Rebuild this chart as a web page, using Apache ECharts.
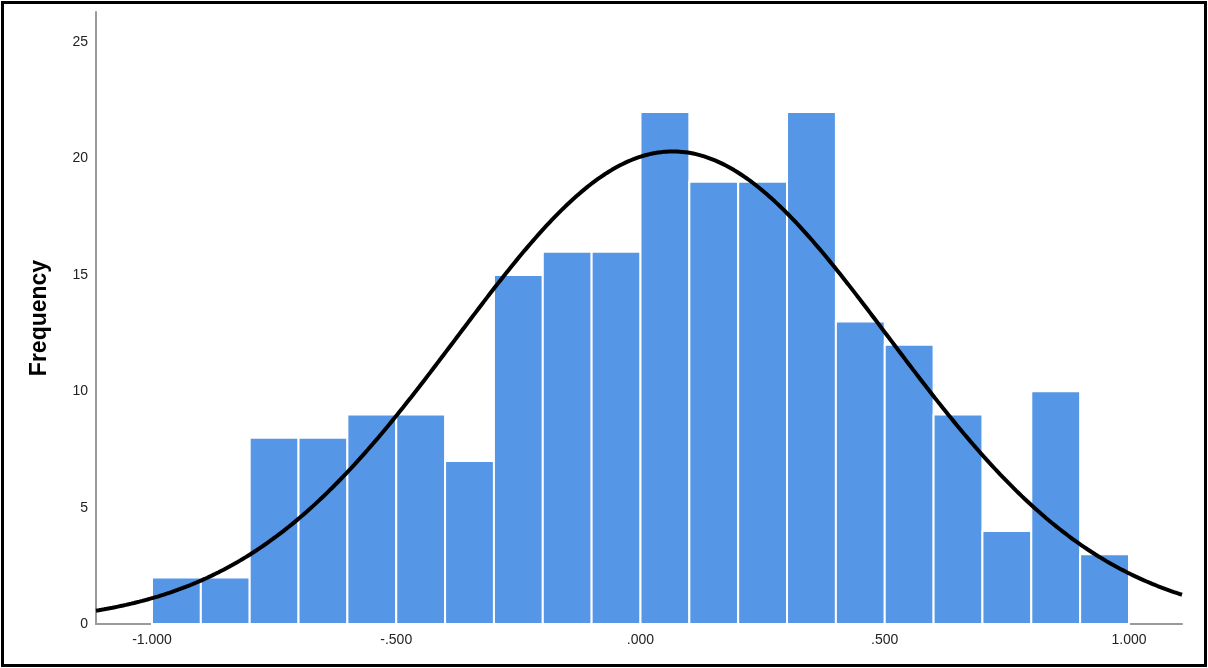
<!DOCTYPE html>
<html>
<head>
<meta charset="utf-8">
<style>
  html, body { margin: 0; padding: 0; background: #fff; }
  #chart { width: 1208px; height: 668px; }
</style>
<script src="https://cdn.jsdelivr.net/npm/echarts@6/dist/echarts.min.js"></script>
</head>
<body>
<div id="chart"></div>
<script>
// Histogram bins (lower edge) and their counts
const binStarts = [-1.0, -0.9, -0.8, -0.7, -0.6, -0.5, -0.4, -0.3, -0.2, -0.1,
                   0.0, 0.1, 0.2, 0.3, 0.4, 0.5, 0.6, 0.7, 0.8, 0.9];
const binWidth = 0.1;
const frequencies = [2, 2, 8, 8, 9, 9, 7, 15, 16, 16,
                     22, 19, 19, 22, 13, 12, 9, 4, 10, 3];

// Normal curve parameters
const normalMean = 0.066;
const normalSD = 0.442;
const sampleN = 225;

// Axis ticks
const xTickValues = [-1, -0.5, 0, 0.5, 1];
const xTickLabels = ['-1.000', '-.500', '.000', '.500', '1.000'];
const yTickValues = [0, 5, 10, 15, 20, 25];

const xMin = -1.1146, xMax = 1.1085;

const histData = binStarts.map((s, i) => [s, s + binWidth, frequencies[i]]);

// Expected frequency per bin under the normal distribution
const curveData = [];
for (let k = 0; k <= 400; k++) {
  const x = xMin + (xMax - xMin) * k / 400;
  const z = (x - normalMean) / normalSD;
  const y = sampleN * binWidth / (normalSD * Math.sqrt(2 * Math.PI)) * Math.exp(-0.5 * z * z);
  curveData.push([x, y]);
}

const labelMap = {};
xTickValues.forEach((v, i) => { labelMap[v.toFixed(3)] = xTickLabels[i]; });

const FONT = 'Liberation Sans, Arial, sans-serif';

const chart = echarts.init(document.getElementById('chart'));
chart.setOption({
  animation: false,
  backgroundColor: '#ffffff',
  grid: { left: 96, right: 26, top: 12, bottom: 44 },
  xAxis: {
    type: 'value',
    min: xMin,
    max: xMax,
    splitLine: { show: false },
    axisLine: { show: true, onZero: false, lineStyle: { color: '#9a9a9a', width: 2 } },
    axisTick: { show: false },
    axisLabel: {
      customValues: xTickValues,
      formatter: v => labelMap[Number(v).toFixed(3)] || '',
      color: '#222',
      fontFamily: FONT,
      fontSize: 14,
      margin: 9
    }
  },
  yAxis: {
    type: 'value',
    min: 0,
    max: 26.3,
    name: 'Frequency',
    nameLocation: 'middle',
    nameGap: 45,
    nameRotate: 90,
    nameTextStyle: {
      color: '#000',
      fontFamily: FONT,
      fontSize: 23,
      fontWeight: 'bold'
    },
    splitLine: { show: false },
    axisLine: { show: true, onZero: false, lineStyle: { color: '#9a9a9a', width: 2 } },
    axisTick: { show: false },
    axisLabel: {
      customValues: yTickValues,
      color: '#222',
      fontFamily: FONT,
      fontSize: 14,
      margin: 8
    }
  },
  graphic: [{
    type: 'rect',
    shape: { x: 2.5, y: 2.5, width: 1203, height: 663 },
    style: { fill: 'none', stroke: '#000', lineWidth: 3 },
    z: 100
  }],
  series: [
    {
      type: 'custom',
      data: histData,
      renderItem: (params, api) => {
        const p0 = api.coord([api.value(0), api.value(2)]);
        const p1 = api.coord([api.value(1), 0]);
        return {
          type: 'rect',
          shape: { x: p0[0], y: p0[1], width: p1[0] - p0[0], height: p1[1] - p0[1] },
          style: { fill: '#5596E6', stroke: '#ffffff', lineWidth: 2 }
        };
      },
      encode: { x: [0, 1], y: 2 },
      z: 2
    },
    {
      type: 'line',
      data: curveData,
      showSymbol: false,
      smooth: false,
      lineStyle: { color: '#000', width: 4 },
      z: 3
    }
  ]
});
</script>
</body>
</html>
